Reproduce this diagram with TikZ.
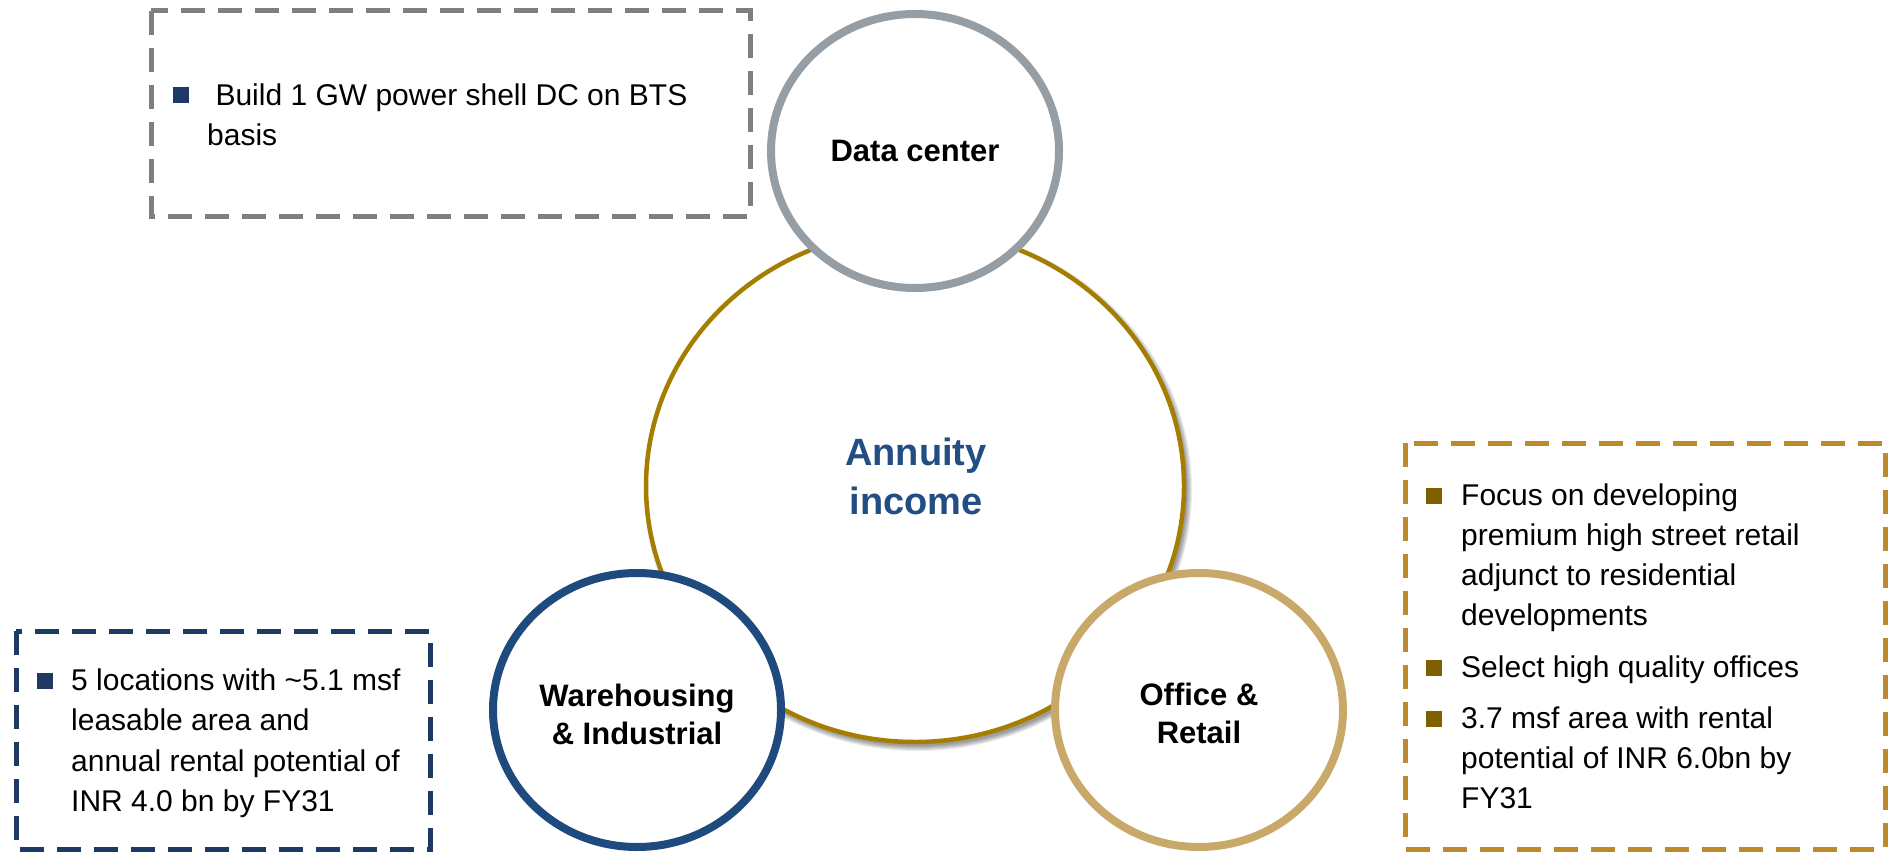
\documentclass[tikz,border=0pt]{standalone}
\usepackage{fontspec}
\setmainfont{Liberation Sans}
\usetikzlibrary{shapes.geometric}

\definecolor{boxgray}{HTML}{7F7F7F}
\definecolor{ringgray}{HTML}{959DA5}
\definecolor{ringgold}{HTML}{A57D00}
\definecolor{ringnavy}{HTML}{1F4A7E}
\definecolor{ringtan}{HTML}{C9A96A}
\definecolor{boxnavy}{HTML}{1D3A63}
\definecolor{boxochre}{HTML}{BD8A2A}
\definecolor{bulletnavy}{HTML}{1F3864}
\definecolor{bulletolive}{HTML}{7F6000}
\definecolor{titleblue}{HTML}{234E84}

% fixed first-line height so every text block is placed by its baseline
\newcommand{\firstline}{\rule{0pt}{28pt}}

\begin{document}
\begin{tikzpicture}[x=1pt,y=-1pt,
  ring/.style={ellipse, draw, fill=white, line width=8pt,
    minimum width=288pt, minimum height=274pt, inner sep=0pt},
  dashbox/.style={line width=5pt, dash pattern=on 24pt off 13pt},
  bodytext/.style={anchor=north west, inner sep=0pt, align=left,
    font=\fontsize{30}{40}\selectfont},
  ringlabel/.style={align=center, inner sep=0pt,
    font=\fontsize{31}{38}\selectfont\bfseries},
  sqbullet/.style={fill=#1}
]
\useasboundingbox (0,0) rectangle (1889,853);

% dashed call-out boxes
\draw[dashbox, boxgray]  (151,11)  rectangle (750,216);
\draw[dashbox, boxnavy]  (16,631)  rectangle (430,849);
\draw[dashbox, boxochre] (1405,443) rectangle (1885,849);

% soft shadow under the central ring
\foreach \d in {0,...,5}
  \fill[black, opacity=0.08] (918,490) ellipse [x radius=269+\d, y radius=256+\d];

% central ring
\node[ellipse, draw=ringgold, fill=white, line width=4.5pt, inner sep=0pt,
      minimum width=538pt, minimum height=512pt] (core) at (915,486) {};
\node[align=center, inner sep=0pt, text=titleblue,
      font=\fontsize{38}{49}\selectfont\bfseries] (coretext) at (916,476)
      {Annuity\\income};

% segment rings
\node[ring, draw=ringgray] (dc)  at (915,151) {};
\node[ring, draw=ringnavy] (wh)  at (637,710) {};
\node[ring, draw=ringtan]  (off) at (1199,710) {};

\node[ringlabel] (dclabel)  at (915,151) {Data center};
\node[ringlabel] (whlabel)  at (637,714) {Warehousing\\\& Industrial};
\node[ringlabel] (offlabel) at (1199,713) {Office \&\\Retail};

% data center notes
\fill[sqbullet=bulletnavy] (173,87) rectangle (189,103);
\node[bodytext] (dcnote) at (207,77)
  {\firstline\ Build 1 GW power shell DC on BTS\\basis};

% warehousing notes
\fill[sqbullet=bulletnavy] (37,673) rectangle (53,689);
\node[bodytext, font=\fontsize{30}{40.5}\selectfont] (whnote) at (71,662)
  {\firstline 5 locations with \textasciitilde5.1 msf\\leasable area and\\annual rental potential of\\INR 4.0 bn by FY31};

% office and retail notes
\fill[sqbullet=bulletolive] (1426,488) rectangle (1442,504);
\node[bodytext] (offnote1) at (1461,477)
  {\firstline Focus on developing\\premium high street retail\\adjunct to residential\\developments};
\fill[sqbullet=bulletolive] (1426,660) rectangle (1442,676);
\node[bodytext] (offnote2) at (1461,649)
  {\firstline Select high quality offices};
\fill[sqbullet=bulletolive] (1426,711) rectangle (1442,727);
\node[bodytext] (offnote3) at (1461,700)
  {\firstline 3.7 msf area with rental\\potential of INR 6.0bn by\\FY31};
\end{tikzpicture}
\end{document}
